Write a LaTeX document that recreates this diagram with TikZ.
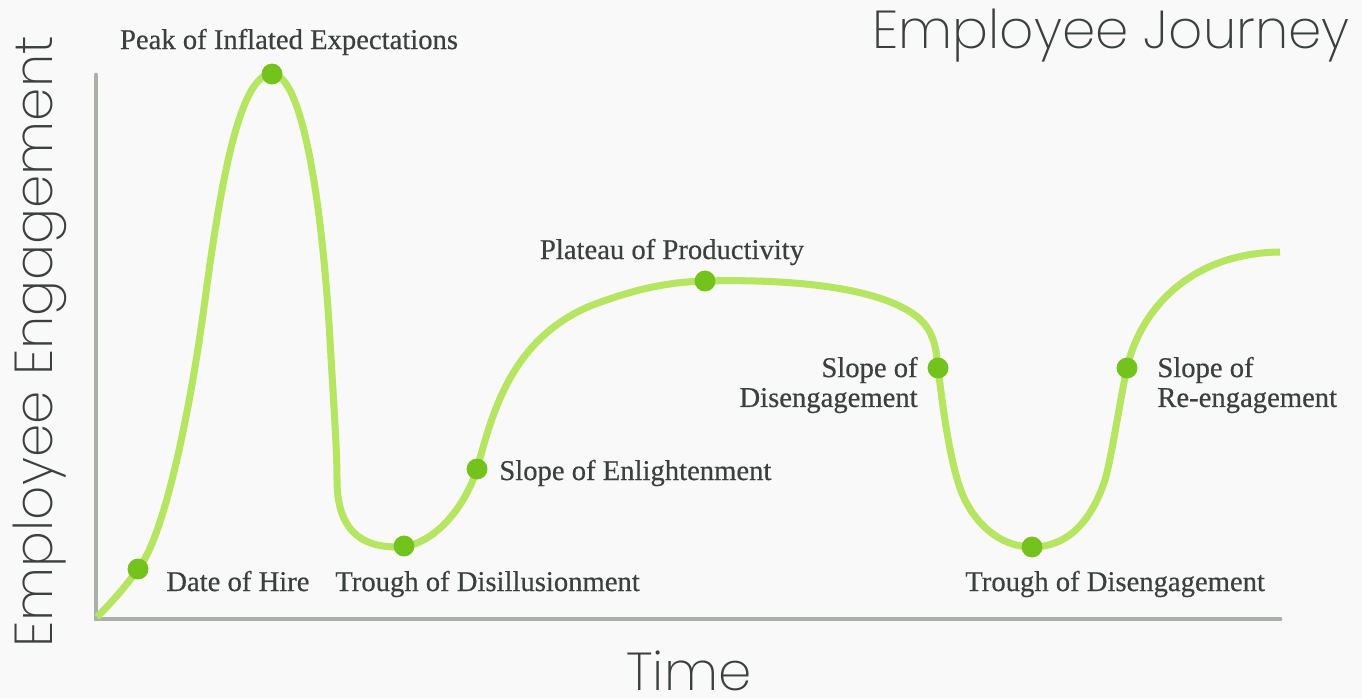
\documentclass[tikz,border=0pt]{standalone}
\usepackage{fontspec}
\setmainfont{Liberation Serif}
\newfontfamily\stagefont{Liberation Serif}[FakeBold=0.5]
\IfFontExistsTF{Poppins ExtraLight}
    {\newfontfamily\thinfont{Poppins ExtraLight}}
    {\newfontfamily\thinfont{Poppins Light}}
\usepackage{tikz}
\usetikzlibrary{positioning}
\definecolor{paper}{HTML}{F9F9F9}
\definecolor{curvegreen}{HTML}{B5E561}
\definecolor{dotgreen}{HTML}{74C21C}
\definecolor{axisgray}{HTML}{A9B1AB}
\definecolor{ink}{HTML}{3B403E}
\tikzset{
    axisline/.style={draw=axisgray, line width=2.8pt, line cap=round},
    journey/.style={draw=curvegreen, line width=4pt},
    milestone/.style={circle, fill=dotgreen, minimum size=11.9pt, inner sep=0pt},
    stagelabel/.style={text=ink, font=\stagefont\fontsize{16.3}{17}\selectfont, inner sep=0pt},
    headline/.style={text=ink, font=\thinfont\fontsize{30.4}{34}\selectfont, inner sep=0pt, text depth=0pt}
}

\begin{document}
\begin{tikzpicture}[x=0.02cm, y=-0.02cm]
    \fill[paper] (0,0) rectangle (1362,698);
    \useasboundingbox (0,0) rectangle (1362,698);
    % axes
    \coordinate (ytop) at (96,75);
    \coordinate (origin) at (96,619);
    \coordinate (xend) at (1280,619);
    \draw[axisline] (ytop) -- (origin) -- (xend);
    % points on the journey
    \coordinate (start) at (97,617);
    \coordinate (hire) at (138,569);
    \coordinate (peak) at (272,74);
    \coordinate (trough) at (404,546);
    \coordinate (enlight) at (477,469);
    \coordinate (plateau) at (705,281);
    \coordinate (diseng) at (938,368);
    \coordinate (lowpoint) at (1032,547);
    \coordinate (reeng) at (1127,368);
    \coordinate (finish) at (1280,252);
    \draw[journey] (start) .. controls (112,602) and (126,586) .. (hire)
        .. controls (163,539) and (189,420) .. (205,300)
        .. controls (221,180) and (240,74) .. (peak)
        .. controls (302,74) and (322,200) .. (330,340)
        .. controls (334,410) and (337,450) .. (337,480)
        .. controls (337,540) and (372,547) .. (398,547)
        .. controls (428,547) and (462,515) .. (enlight)
        .. controls (492,415) and (510,340) .. (590,306)
        .. controls (637,288) and (670,282) .. (plateau)
        .. controls (780,279) and (870,285) .. (912,313)
        .. controls (933,327) and (936,345) .. (diseng)
        .. controls (942,400) and (950,470) .. (965,500)
        .. controls (980,530) and (1005,547) .. (lowpoint)
        .. controls (1065,547) and (1090,525) .. (1105,480)
        .. controls (1112,455) and (1120,400) .. (reeng)
        .. controls (1140,310) and (1190,253) .. (finish);
    \foreach \p in {hire, peak, trough, enlight, plateau, diseng, lowpoint, reeng}
        \node[milestone] (\p dot) at (\p) {};
    % stage names
    \node[stagelabel, anchor=base west] (hiretxt) at (166,591) {Date of Hire};
    \node[stagelabel, anchor=base] (peaktxt) at (289,49) {Peak of Inflated Expectations};
    \node[stagelabel, anchor=base west] (troughtxt) at (335,591) {Trough of Disillusionment};
    \node[stagelabel, anchor=base west] (enlighttxt) at (499,480) {Slope of Enlightenment};
    \node[stagelabel, anchor=base] (plateautxt) at (672,259) {Plateau of Productivity};
    \node[stagelabel, anchor=east, align=right] (disengtxt) at (918,385) {Slope of\\Disengagement};
    \node[stagelabel, anchor=base west] (lowtxt) at (965,591) {Trough of Disengagement};
    \node[stagelabel, anchor=west, align=left] (reengtxt) at (1157,385) {Slope of\\Re-engagement};
    % titles
    \node[headline, anchor=base east] (title) at (1350,48) {Employee Journey};
    \node[headline, anchor=base] (xlabel) at (689,690) {Time};
    \node[headline, anchor=base west, rotate=90] (ylabel) at (52,648) {Employee Engagement};
\end{tikzpicture}
\end{document}
